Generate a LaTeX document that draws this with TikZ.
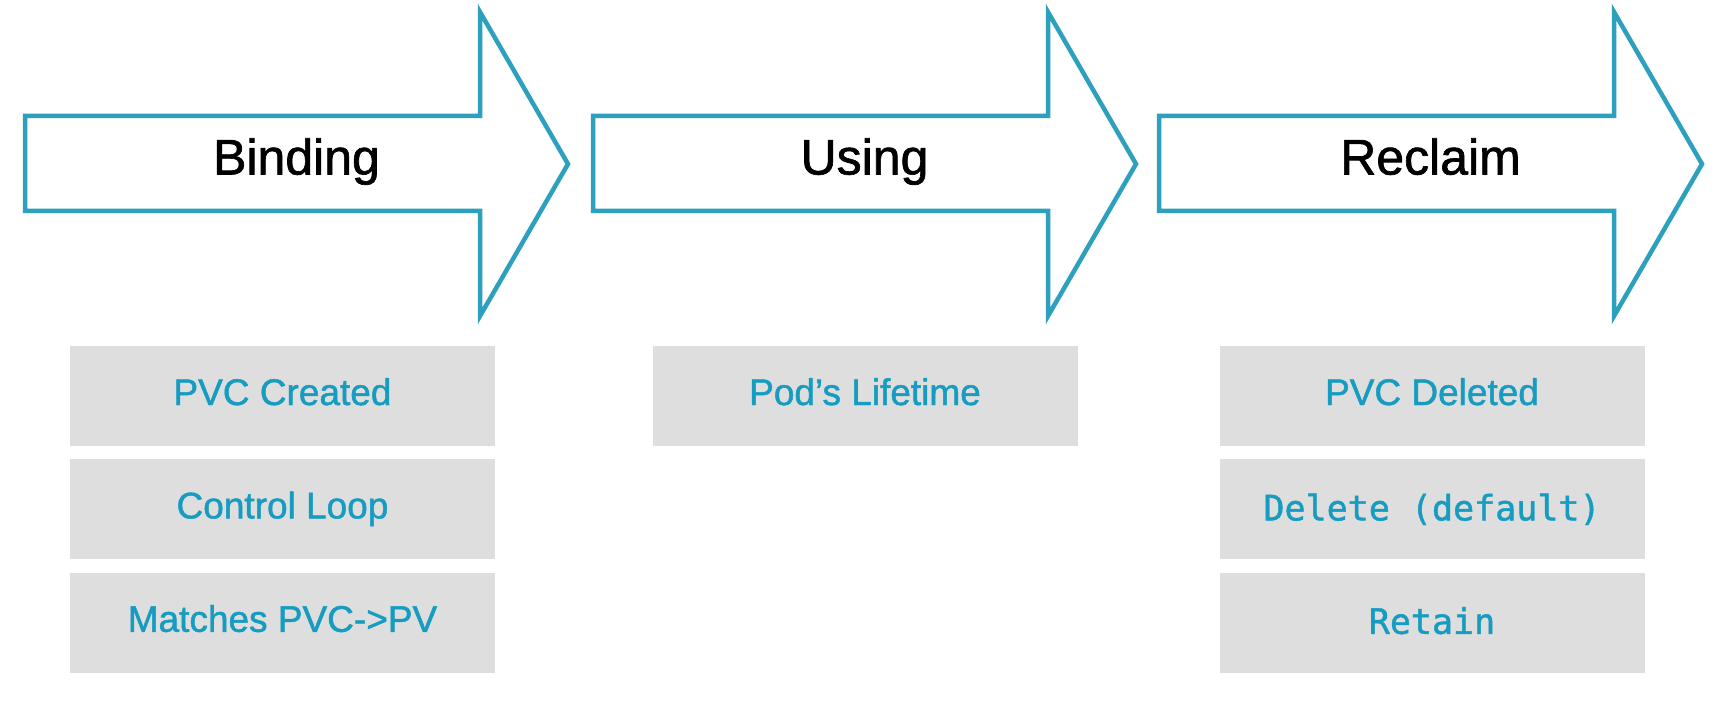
\documentclass[tikz,border=0pt]{standalone}
\usepackage{fontspec}
\setmainfont{Liberation Sans}
\setmonofont{DejaVu Sans Mono}
\newfontfamily\labelfont{Liberation Sans}[FakeBold = 1.3]
\newfontfamily\codefont{DejaVu Sans Mono}[FakeBold = 1.3]
\usetikzlibrary{positioning}
\definecolor{phaseblue}{RGB}{44,160,189}
\definecolor{stepblue}{RGB}{22,156,192}
\definecolor{stepgray}{RGB}{222,222,222}
\tikzset{x = 1pt, y = -1pt,
         node distance = 13pt,
         phasearrow/.style = {draw = phaseblue, line width = 4.5pt, fill = white},
         phase/.style = {font = \labelfont\fontsize{50}{50}\selectfont, text = black,
                         text height = 36pt, text depth = 11pt},
         stepbox/.style = {fill = stepgray, minimum width = 425pt, minimum height = 100pt,
                           inner sep = 0pt, text = stepblue,
                           text height = 26pt, text depth = 8pt,
                           font = \labelfont\fontsize{37}{37}\selectfont},
         stepcode/.style = {stepbox, text depth = 4pt,
                            font = \codefont\fontsize{35}{35}\selectfont}}

\begin{document}
\begin{tikzpicture}
        \useasboundingbox (0,0) rectangle (1720,703);

        \foreach \x/\name/\label in {25/bind/Binding, 593/use/Using, 1159/recl/Reclaim}
          {
            \draw[phasearrow] (\x,116) -- ++(455,0) -- ++(0,-104) -- ++(88,152)
                              -- ++(-88,152) -- ++(0,-105) -- ++(-455,0) -- cycle;
            \node[phase] (\name) at (\x+271.5,162) {\label};
          }

        \node[stepbox]		(created)	at (282.5,396)	{PVC Created};
        \node[stepbox]		(loop)	[below = of created]	{Control Loop};
        \node[stepbox]		(matches)	[below = of loop]	{Matches PVC->PV};

        \node[stepbox]		(lifetime)	at (865,396)	{Pod’s Lifetime};

        \node[stepbox]		(deleted)	at (1432,396)	{PVC Deleted};
        \node[stepcode]		(delete)	[below = of deleted]	{Delete (default)};
        \node[stepcode]		(retain)	[below = of delete]	{Retain};
      \end{tikzpicture}
\end{document}
